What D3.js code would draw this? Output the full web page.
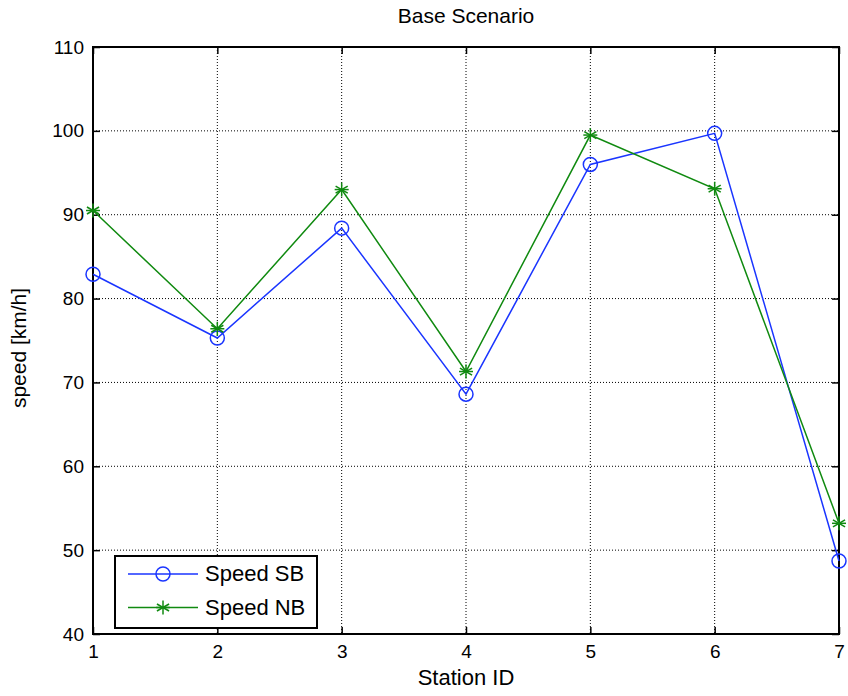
<!DOCTYPE html>
<html>
<head>
<meta charset="utf-8">
<script src="https://cdn.jsdelivr.net/npm/d3@7"></script>
<style>
  body { margin: 0; background: #fff; }
  svg text { font-family: 'Liberation Sans', Arial, sans-serif; fill: #000; }
</style>
</head>
<body>
<div id="chart"></div>
<script>
/* data */
const stations = [1, 2, 3, 4, 5, 6, 7];
const speedSB = [82.9, 75.3, 88.4, 68.6, 96.0, 99.7, 48.7];
const speedNB = [90.5, 76.4, 93.0, 71.3, 99.5, 93.1, 53.2];
const yTicks = [40, 50, 60, 70, 80, 90, 100, 110];
const seriesNames = ['Speed SB', 'Speed NB'];

const W = 848, H = 696;
const m = { t: 47, r: 9, b: 62, l: 93 };
const w = W - m.l - m.r, h = H - m.t - m.b;

const svg = d3.select('#chart').append('svg')
  .attr('width', W).attr('height', H);
const g = svg.append('g').attr('transform', `translate(${m.l},${m.t})`);

const x = d3.scaleLinear().domain([1, 7]).range([0, w]);
const y = d3.scaleLinear().domain([40, 110]).range([h, 0]);

/* grid */
g.append('g').selectAll('line').data(stations.slice(1, -1)).join('line')
  .attr('x1', d => x(d)).attr('x2', d => x(d)).attr('y1', 0).attr('y2', h)
  .attr('stroke', '#000').attr('stroke-width', 1).attr('stroke-dasharray', '1,2');
g.append('g').selectAll('line').data(yTicks.slice(1, -1)).join('line')
  .attr('y1', d => y(d)).attr('y2', d => y(d)).attr('x1', 0).attr('x2', w)
  .attr('stroke', '#000').attr('stroke-width', 1).attr('stroke-dasharray', '1,2');

/* axes with inside ticks */
const tk = 7;
const axB = g.append('g').attr('transform', `translate(0,${h})`)
  .call(d3.axisBottom(x).tickValues(stations).tickFormat(d3.format('d')).tickSize(-tk).tickPadding(11));
const axT = g.append('g')
  .call(d3.axisTop(x).tickValues(stations).tickFormat('').tickSize(-tk));
const axL = g.append('g')
  .call(d3.axisLeft(y).tickValues(yTicks).tickFormat(d3.format('d')).tickSize(-tk).tickPadding(9));
const axR = g.append('g').attr('transform', `translate(${w},0)`)
  .call(d3.axisRight(y).tickValues(yTicks).tickFormat('').tickSize(-tk));
[axB, axT, axL, axR].forEach(a => {
  a.select('.domain').remove();
  a.selectAll('line').attr('stroke', '#000').attr('stroke-width', 1.5);
  a.selectAll('text').attr('font-size', 19).attr('font-family', 'Liberation Sans, Arial, sans-serif').attr('fill', '#000');
});

/* frame */
g.append('rect').attr('width', w).attr('height', h)
  .attr('fill', 'none').attr('stroke', '#000').attr('stroke-width', 2);

/* lines */
const colors = ['#1a35ff', '#108a10'];
const line = d3.line().x((d, i) => x(stations[i])).y(d => y(d));
[speedSB, speedNB].forEach((s, k) => {
  g.append('path').datum(s).attr('d', line)
    .attr('fill', 'none').attr('stroke', colors[k]).attr('stroke-width', 1.5);
});

function star(sel, cx, cy, r, color) {
  const gs = sel.append('g').attr('transform', `translate(${cx},${cy})`)
    .attr('stroke', color).attr('stroke-width', 1.5);
  [0, 60, 120].forEach(a => {
    const rad = a * Math.PI / 180;
    gs.append('line')
      .attr('x1', -r * Math.sin(rad)).attr('y1', -r * Math.cos(rad))
      .attr('x2', r * Math.sin(rad)).attr('y2', r * Math.cos(rad));
  });
  gs.append('line').attr('x1', -r).attr('x2', r).attr('y1', 0).attr('y2', 0);
}

/* markers */
g.append('g').selectAll('circle').data(speedSB).join('circle')
  .attr('cx', (d, i) => x(stations[i])).attr('cy', d => y(d)).attr('r', 7)
  .attr('fill', 'none').attr('stroke', colors[0]).attr('stroke-width', 1.5);
speedNB.forEach((d, i) => star(g, x(stations[i]), y(d), 7, colors[1]));

/* legend */
const lg = svg.append('g').attr('transform', 'translate(115,556)');
lg.append('rect').attr('width', 202).attr('height', 72)
  .attr('fill', '#fff').attr('stroke', '#000').attr('stroke-width', 2);
seriesNames.forEach((name, k) => {
  const ly = 18 + k * 33.5;
  lg.append('line').attr('x1', 13).attr('x2', 83).attr('y1', ly).attr('y2', ly)
    .attr('stroke', colors[k]).attr('stroke-width', 1.5);
  if (k === 0) {
    lg.append('circle').attr('cx', 48).attr('cy', ly).attr('r', 7)
      .attr('fill', 'none').attr('stroke', colors[k]).attr('stroke-width', 1.5);
  } else {
    star(lg, 48, ly, 7, colors[k]);
  }
  lg.append('text').attr('x', 90).attr('y', ly + 7).attr('font-size', 22).text(name);
});

/* titles */
svg.append('text').attr('x', m.l + w / 2).attr('y', 23).attr('text-anchor', 'middle')
  .attr('font-size', 21).text('Base Scenario');
svg.append('text').attr('x', m.l + w / 2).attr('y', 685).attr('text-anchor', 'middle')
  .attr('font-size', 22).text('Station ID');
svg.append('text').attr('transform', `translate(26,348) rotate(-90)`)
  .attr('text-anchor', 'middle').attr('font-size', 21).text('speed [km/h]');
</script>
</body>
</html>
